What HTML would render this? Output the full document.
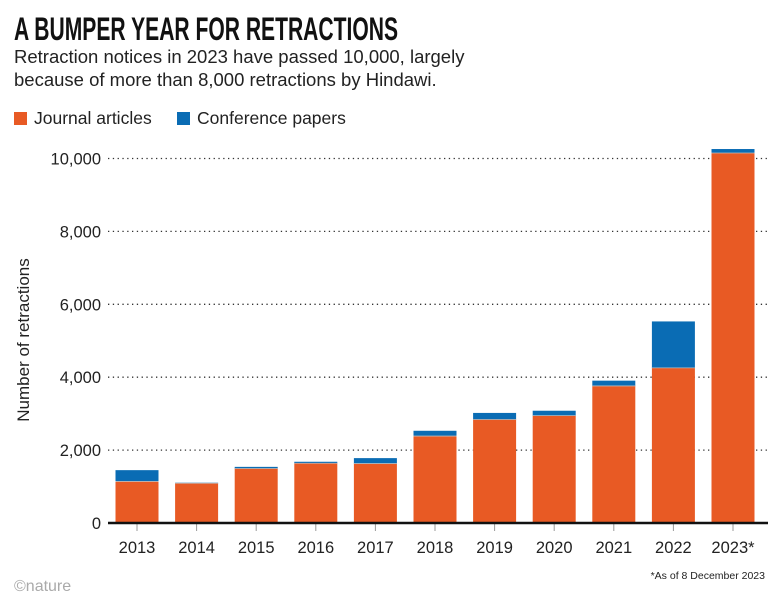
<!DOCTYPE html>
<html><head><meta charset="utf-8"><style>
body{margin:0;background:#fff;width:782px;height:605px;overflow:hidden;font-family:"Liberation Sans",sans-serif;}
svg{display:block}
</style></head><body>
<svg width="782" height="605">
<text x="14" y="40" font-family="'Liberation Sans Narrow','Liberation Sans',sans-serif" font-weight="bold" font-size="32" fill="#111" textLength="384" lengthAdjust="spacingAndGlyphs">A BUMPER YEAR FOR RETRACTIONS</text>
<text x="14" y="63" font-size="18.5" fill="#222">Retraction notices in 2023 have passed 10,000, largely</text>
<text x="14" y="86" font-size="18.5" fill="#222">because of more than 8,000 retractions by Hindawi.</text>
<rect x="14" y="112" width="13" height="13" fill="#e85a24"/>
<text x="34" y="124" font-size="17.5" fill="#222">Journal articles</text>
<rect x="177" y="112" width="13" height="13" fill="#0a6cb4"/>
<text x="197" y="124" font-size="17.5" fill="#222">Conference papers</text>
<g id="grid"></g><g id="bars"></g><g id="axes"></g>
<text transform="translate(29,340) rotate(-90)" text-anchor="middle" font-size="17" fill="#222">Number of retractions</text>
<text x="14" y="591" font-size="16" fill="#aaa">©nature</text>
<text x="765" y="579" text-anchor="end" font-size="10.5" fill="#222">*As of 8 December 2023</text>
</svg>
<script>
const years=["2013","2014","2015","2016","2017","2018","2019","2020","2021","2022","2023*"];
const journal=[1140,1090,1495,1640,1630,2385,2840,2945,3760,4255,10150];
const conference=[310,15,45,40,150,145,180,135,145,1275,110];
const yTicks=[0,2000,4000,6000,8000,10000];
const yTickLabels=["0","2,000","4,000","6,000","8,000","10,000"];
const NS="http://www.w3.org/2000/svg";
const y0=523,pxPer=0.03645;
function yS(v){return y0-v*pxPer;}
function xS(i){return 137+i*59.6;}
const bw=43;
function mk(t,a,p){const e=document.createElementNS(NS,t);for(const k in a)e.setAttribute(k,a[k]);p.appendChild(e);return e;}
const grid=document.getElementById('grid'),bars=document.getElementById('bars'),axes=document.getElementById('axes');
yTicks.forEach((v,i)=>{
 if(v>0){const l=mk('line',{x1:108,x2:768,y1:yS(v),y2:yS(v),stroke:'#333','stroke-width':1.3,'stroke-dasharray':'1.3 3.5'},grid);
 
 }
 const t=mk('text',{x:101,y:yS(v)+6,'text-anchor':'end','font-size':16.5,fill:'#222'},axes);t.textContent=yTickLabels[i];
 
 
});
years.forEach((yr,i)=>{
 const x=xS(i)-bw/2;
 const j=mk('rect',{x:x,y:yS(journal[i]),width:bw,height:y0-yS(journal[i]),fill:'#e85a24'},bars);
 
 
 const c=mk('rect',{x:x,y:yS(journal[i]+conference[i]),width:bw,height:conference[i]*pxPer,fill:'#0a6cb4'},bars);
 
 
 mk('line',{x1:x,x2:x+bw,y1:yS(journal[i]),y2:yS(journal[i]),stroke:'#bbb','stroke-width':0.8},bars);
 mk('line',{x1:xS(i),x2:xS(i),y1:y0,y2:y0+8,stroke:'#999','stroke-width':1},axes);
 const t=mk('text',{x:xS(i),y:553,'text-anchor':'middle','font-size':16.5,fill:'#222'},axes);t.textContent=yr;
 
 
});
const ax=mk('line',{x1:108,x2:768,y1:y0,y2:y0,stroke:'#111','stroke-width':2.5},axes);


</script>
</body></html>
